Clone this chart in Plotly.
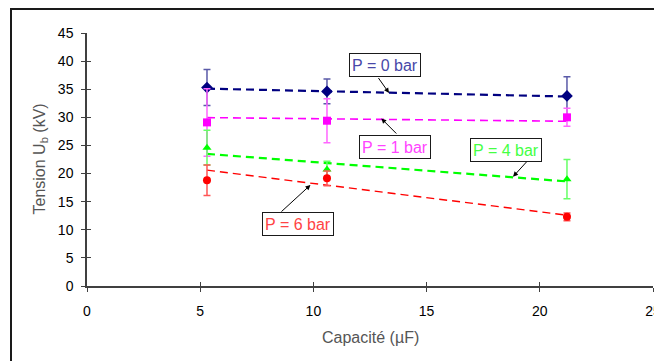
import plotly.graph_objects as go

# ---- data ----
capacite = [5.3, 10.6, 21.2]
series_names = ["P = 0 bar", "P = 1 bar", "P = 4 bar", "P = 6 bar"]
u_p0 = [35.3, 34.6, 33.8]
u_p1 = [29.1, 29.4, 30.0]
u_p4 = [24.6, 20.7, 19.0]
u_p6 = [18.8, 19.15, 12.3]
err_p0 = [3.2, 2.2, 3.4]
err_p1 = [6.0, 3.9, 1.6]
err_p4 = [3.1, 1.5, 3.5]
err_p6 = [2.7, 1.3, 0.7]
# trend line values at first and last capacity
trend_p0 = [35.1, 33.7]
trend_p1 = [29.95, 29.3]
trend_p4 = [23.5, 18.6]
trend_p6 = [20.6, 12.6]
x_ticks = [0, 5, 10, 15, 20, 25]
y_ticks = [0, 5, 10, 15, 20, 25, 30, 35, 40, 45]

values = [u_p0, u_p1, u_p4, u_p6]
errors = [err_p0, err_p1, err_p4, err_p6]
trends = [trend_p0, trend_p1, trend_p4, trend_p6]
colors = ["#000080", "#FF00FF", "#00FF00", "#FF0000"]
err_colors = ["#5A5AA8", "#FF66FF", "#66FF66", "#FF5555"]
label_colors = ["#4848A8", "#FF44FF", "#44FF44", "#FF4444"]
symbols = ["diamond", "square", "triangle-up", "circle"]
dash_w = [2.2, 1.6, 2.2, 1.4]

FONT = "Liberation Sans, Arial, sans-serif"

fig = go.Figure()

# trend lines
for name, tr, c, w in zip(series_names, trends, colors, dash_w):
    fig.add_trace(go.Scatter(
        x=[capacite[0], capacite[-1]], y=tr, mode="lines",
        line=dict(color=c, width=w, dash="8px,5px"),
        hoverinfo="skip", showlegend=False))

# points with error bars
for name, v, e, c, ec, s in zip(series_names, values, errors, colors, err_colors, symbols):
    fig.add_trace(go.Scatter(
        x=capacite, y=v, mode="markers", name=name,
        marker=dict(color=c, symbol=s, size=8 if s != "diamond" else 9),
        error_y=dict(type="data", array=e, color=ec, thickness=1.5, width=3.5),
        showlegend=False))

# invisible trace on overlay axes (for crossing ticks)
fig.add_trace(go.Scatter(x=[0], y=[0], xaxis="x2", yaxis="y2", mode="markers",
                         marker=dict(opacity=0), hoverinfo="skip", showlegend=False))

axis_common = dict(showgrid=False, zeroline=False, showline=True,
                   linecolor="#404040", linewidth=1.5, tickcolor="#404040",
                   tickwidth=1.2, ticklen=4, ticks="outside", automargin=False)

# page body has an 8px margin, so the figure is shrunk and shifted accordingly
fig.update_layout(
    width=654, height=353,
    margin=dict(l=79, r=9, t=25, b=75, autoexpand=False),
    paper_bgcolor="white", plot_bgcolor="white",
    font=dict(family=FONT, color="black", size=14),
    xaxis=dict(range=[0, 25], tickvals=x_ticks, ticklabelstandoff=7,
               tickfont=dict(size=14, color="black"), **axis_common),
    yaxis=dict(range=[0, 45], tickvals=y_ticks, ticklabelstandoff=5,
               tickfont=dict(size=14, color="black"), **axis_common),
    xaxis2=dict(range=[0, 25], tickvals=x_ticks, overlaying="x", anchor="y2",
                showticklabels=False, showgrid=False, zeroline=False, showline=False,
                ticks="inside", ticklen=4, tickcolor="#404040", tickwidth=1.2),
    yaxis2=dict(range=[0, 45], tickvals=y_ticks, overlaying="y", anchor="x2",
                showticklabels=False, showgrid=False, zeroline=False, showline=False,
                ticks="inside", ticklen=4, tickcolor="#404040", tickwidth=1.2),
    showlegend=False,
)

# outer frame
fig.add_shape(type="rect", xref="paper", yref="paper",
              x0=(11 - 87) / 566, x1=1.2, y0=-0.5, y1=(286 - 9) / 253,
              line=dict(color="#1a1a1a", width=2), fillcolor="rgba(0,0,0,0)", layer="below")

# axis titles
fig.add_annotation(text="Capacité (µF)", xref="paper", yref="paper",
                   x=0.5, y=(286 - 337) / 253, showarrow=False,
                   xanchor="center", yanchor="middle",
                   font=dict(size=16, color="#555555", family=FONT))
fig.add_annotation(text="Tension U<sub>b</sub> (kV)", xref="paper", yref="paper",
                   x=(40 - 87) / 566, y=0.5, textangle=-90, showarrow=False,
                   xanchor="center", yanchor="middle",
                   font=dict(size=16, color="#555555", family=FONT))

# labels: box centre (data), arrow head (data), arrow tail offset (px)
box_pos = [(13.16, 39.31), (13.60, 24.72), (18.51, 24.19), (9.30, 10.94)]
arrow_head = [(13.34, 34.33), (13.0, 29.79), (18.82, 19.44), (9.87, 17.97)]
arrow_tail = [(-12, -17), (16.5, 16.5), (15, -16.5), (-30.5, 28)]

for name, lc, bp, ah, at in zip(series_names, label_colors, box_pos, arrow_head, arrow_tail):
    fig.add_annotation(text=name, x=bp[0], y=bp[1], showarrow=False,
                       font=dict(size=16, color=lc, family=FONT),
                       bgcolor="white", bordercolor="#1a1a1a", borderwidth=1,
                       borderpad=2, width=66, height=18)
    fig.add_annotation(text=" ", x=ah[0], y=ah[1], ax=at[0], ay=at[1],
                       showarrow=True, arrowhead=2, arrowsize=1, arrowwidth=1,
                       arrowcolor="black", font=dict(size=1))

fig.write_html("out.html")
